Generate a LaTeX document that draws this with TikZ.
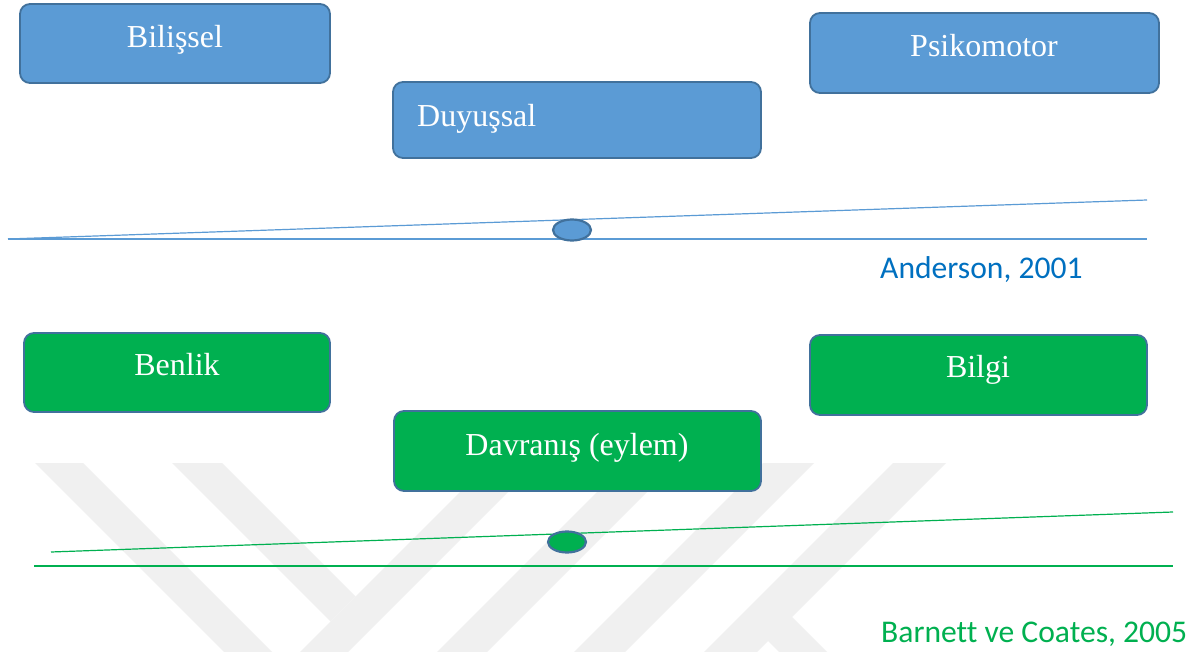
\documentclass[tikz,border=0pt]{standalone}
\usepackage{fontspec}
\setmainfont{Liberation Serif}
\newfontfamily\citefont[Ligatures=NoCommon]{Carlito}
\usetikzlibrary{shapes.geometric}

\definecolor{boxblue}{HTML}{5B9BD5}
\definecolor{edgeblue}{HTML}{41719C}
\definecolor{boxgreen}{HTML}{00B050}
\definecolor{citeblue}{HTML}{0070C0}
\definecolor{markgray}{HTML}{F0F0F0}

\tikzset{
  panel/.style={draw=edgeblue, line width=1.8pt, rounded corners=10pt,
    inner sep=0pt, outer sep=0pt, anchor=north west},
  bluepanel/.style={panel, fill=boxblue},
  greenpanel/.style={panel, fill=boxgreen},
  panellabel/.style={text=white, inner sep=0pt, font=\fontsize{32}{38}\selectfont},
  citelabel/.style={inner sep=0pt, anchor=base west, font=\citefont\fontsize{31.6}{38}\selectfont},
  pivot/.style={ellipse, draw=edgeblue, line width=2.2pt, inner sep=0pt,
    minimum width=38pt, minimum height=21pt},
  blueline/.style={draw=boxblue, line width=1.2pt},
  greenline/.style={draw=boxgreen, line width=1.2pt},
}

\begin{document}
\begin{tikzpicture}[x=1pt, y=-1pt]
  % canvas
  \fill[white] (0,0) rectangle (1203,652);
  \useasboundingbox (0,0) rectangle (1203,652);

  % faint background logo made of diagonal bars
  \fill[markgray] (35,463) -- (83,463) -- (272,652) -- (224,652) -- cycle;
  \fill[markgray] (172,463) -- (222,463) -- (355.5,596.5) -- (330.5,621.5) -- cycle;
  \fill[markgray] (489,463) -- (537,463) -- (348,652) -- (300,652) -- cycle;
  \fill[markgray] (626,463) -- (676,463) -- (487,652) -- (437,652) -- cycle;
  \fill[markgray] (763,463) -- (814,463) -- (625,652) -- (574,652) -- cycle;
  \fill[markgray] (893,463) -- (946,463) -- (792,617) -- (827,652)
    -- (779,652) -- (768,641) -- (757,652) -- (704,652) -- cycle;

  % ---------- upper balance: Anderson ----------
  \coordinate (aBaseL) at (8,239);
  \coordinate (aBaseR) at (1147,239);
  \coordinate (aBeamL) at (8,239);
  \coordinate (aBeamR) at (1147,200);
  \draw[blueline] (aBaseL) -- (aBaseR);
  \draw[blueline] (aBeamL) -- (aBeamR);
  \node[pivot, fill=boxblue] (aPivot) at (572,230) {};

  \node[bluepanel, minimum width=310pt, minimum height=79pt] (bilissel) at (20,4) {};
  \node[panellabel, anchor=base] (bilisselT) at (175,48) {Bilişsel};

  \node[bluepanel, minimum width=368pt, minimum height=76pt] (duyussal) at (393,82) {};
  \node[panellabel, anchor=base west] (duyussalT) at (417,127) {Duyuşsal};

  \node[bluepanel, minimum width=349pt, minimum height=80pt] (psiko) at (810,13) {};
  \node[panellabel, anchor=base] (psikoT) at (984,57) {Psikomotor};

  \node[citelabel, text=citeblue] (anderson) at (880,279) {Anderson, 2001};

  % ---------- lower balance: Barnett ve Coates ----------
  \coordinate (bBaseL) at (34,566);
  \coordinate (bBaseR) at (1173,566);
  \coordinate (bBeamL) at (51,552);
  \coordinate (bBeamR) at (1173,512);
  \draw[greenline] (bBaseL) -- (bBaseR);
  \draw[greenline] (bBeamL) -- (bBeamR);
  \node[pivot, fill=boxgreen] (bPivot) at (567,542) {};

  \node[greenpanel, minimum width=306pt, minimum height=79pt] (benlik) at (24,333) {};
  \node[panellabel, anchor=base] (benlikT) at (177,376) {Benlik};

  \node[greenpanel, minimum width=337pt, minimum height=80pt] (bilgi) at (810,335) {};
  \node[panellabel, anchor=base] (bilgiT) at (978,378) {Bilgi};

  \node[greenpanel, minimum width=367pt, minimum height=80pt] (davranis) at (394,411) {};
  \node[panellabel, anchor=base] (davranisT) at (577,456) {Davranış (eylem)};

  \node[citelabel, text=boxgreen] (barnett) at (881,642) {Barnett ve Coates, 2005};
\end{tikzpicture}
\end{document}
